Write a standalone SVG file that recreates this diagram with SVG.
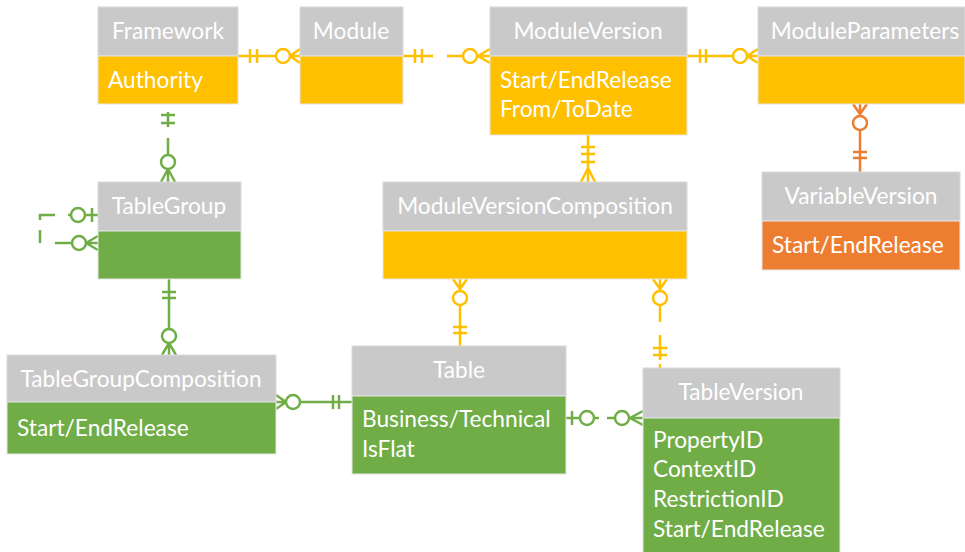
<svg xmlns="http://www.w3.org/2000/svg" width="965" height="552" viewBox="0 0 965 552">
<style>
.hd{fill:#C9C9C9;stroke:#DADADA;stroke-width:1}
.gold{fill:#FFC000;stroke:#E6E6E6;stroke-width:1}
.green{fill:#70AD47;stroke:#E6E6E6;stroke-width:1}
.orange{fill:#ED7D31;stroke:#E6E6E6;stroke-width:1}
text{font-family:Lato,"Open Sans","Liberation Sans",sans-serif;font-size:22.7px;fill:#FFFFFF}
.c{text-anchor:middle}
.lg{stroke:#FFC000;stroke-width:2.5;fill:none}
.lgr{stroke:#70AD47;stroke-width:2.5;fill:none}
.lo{stroke:#ED7D31;stroke-width:2.5;fill:none}
circle{fill:#FFFFFF}
</style>
<rect width="965" height="552" fill="#FFFFFF"/>
<g id="connectors">
  <!-- Framework - Module -->
  <g class="lg">
    <path d="M238 56H276M250 49V63M257 49V63M290 56H300M290 56L300 49M290 56L300 63"/>
    <circle cx="283" cy="56" r="7"/>
  </g>
  <!-- Module - ModuleVersion -->
  <g class="lg">
    <path d="M403 56H433M415 49V63M422 49V63M447 56H463M477 56H490M478 56L490 49M478 56L490 63"/>
    <circle cx="470" cy="56" r="7"/>
  </g>
  <!-- ModuleVersion - ModuleParameters -->
  <g class="lg">
    <path d="M687 56H733M700 49V63M706 49V63M747 56H758M747 56L758 49M747 56L758 63"/>
    <circle cx="740" cy="56" r="7"/>
  </g>
  <!-- ModuleParameters - VariableVersion -->
  <g class="lo">
    <path d="M860 104V116M860 114L853 104M860 114L867 104M860 130V172M853 152H867M853 158H867"/>
    <circle cx="860" cy="123" r="7"/>
  </g>
  <!-- Framework - TableGroup -->
  <g class="lgr">
    <path d="M168 112V127M161 115H175M161 123H175M168 138V155M168 169V182M168 169L161 182M168 169L175 182"/>
    <circle cx="168" cy="162" r="7"/>
  </g>
  <!-- TableGroup self -->
  <g class="lgr">
    <path d="M98 215H85M92 208V222M71 215H68M55 215H40V220M40 230V243M55 243H72M86 243H98M86 243L98 236M86 243L98 250"/>
    <circle cx="78" cy="215" r="7"/>
    <circle cx="79" cy="243" r="7"/>
  </g>
  <!-- TableGroup - TableGroupComposition -->
  <g class="lgr">
    <path d="M169 279V329M162 292H176M162 298H176M169 343V355M169 343L162 355M169 343L176 355"/>
    <circle cx="169" cy="336" r="7"/>
  </g>
  <!-- ModuleVersion - MVC -->
  <g class="lg">
    <path d="M588 135V182M581 147H595M581 154H595M581 162H595M588 168L581 182M588 168L595 182"/>
  </g>
  <!-- MVC - Table -->
  <g class="lg">
    <path d="M460 279V291M460 289L453 279M460 289L467 279M460 305V346M453 327H467M453 333H467"/>
    <circle cx="460" cy="298" r="7"/>
  </g>
  <!-- MVC - TableVersion -->
  <g class="lg">
    <path d="M660 279V291M660 289L653 279M660 289L667 279M660 305V322M660 335V360M653 348H667M653 355H667M660 364V368"/>
    <circle cx="660" cy="298" r="7"/>
  </g>
  <!-- TGC - Table -->
  <g class="lgr">
    <path d="M276 402H286M286 402L276 395M286 402L276 409M300 402H352M333 395V409M339 395V409"/>
    <circle cx="293" cy="402" r="7"/>
  </g>
  <!-- Table - TableVersion -->
  <g class="lgr">
    <path d="M566 418H580M572 411V425M594 418H599M607 418H615M630 418H643M630 418L643 411M630 418L643 425"/>
    <circle cx="587" cy="418" r="7"/>
    <circle cx="622" cy="418" r="7"/>
  </g>
</g>
<g id="Framework">
  <rect class="hd" x="98" y="7" width="140" height="49"/>
  <rect class="gold" x="98" y="56" width="140" height="48"/>
  <text class="c" x="168" y="39">Framework</text>
  <text x="108" y="88">Authority</text>
</g>
<g id="Module">
  <rect class="hd" x="300" y="7" width="103" height="49"/>
  <rect class="gold" x="300" y="56" width="103" height="48"/>
  <text class="c" x="351" y="39">Module</text>
</g>
<g id="ModuleVersion">
  <rect class="hd" x="490" y="7" width="197" height="49"/>
  <rect class="gold" x="490" y="56" width="197" height="79"/>
  <text class="c" x="588" y="39">ModuleVersion</text>
  <text x="500" y="88">Start/EndRelease</text>
  <text x="500" y="117">From/ToDate</text>
</g>
<g id="ModuleParameters">
  <rect class="hd" x="758" y="7" width="207" height="49"/>
  <rect class="gold" x="758" y="56" width="207" height="48"/>
  <text class="c" x="865" y="39">ModuleParameters</text>
</g>
<g id="VariableVersion">
  <rect class="hd" x="762" y="172" width="198" height="49"/>
  <rect class="orange" x="762" y="221" width="198" height="49"/>
  <text class="c" x="861" y="204">VariableVersion</text>
  <text x="772" y="253">Start/EndRelease</text>
</g>
<g id="ModuleVersionComposition">
  <rect class="hd" x="383" y="182" width="304" height="49"/>
  <rect class="gold" x="383" y="231" width="304" height="48"/>
  <text class="c" x="535" y="214">ModuleVersionComposition</text>
</g>
<g id="TableGroup">
  <rect class="hd" x="98" y="182" width="143" height="49"/>
  <rect class="green" x="98" y="231" width="143" height="48"/>
  <text class="c" x="169" y="214">TableGroup</text>
</g>
<g id="TableGroupComposition">
  <rect class="hd" x="7" y="355" width="269" height="47"/>
  <rect class="green" x="7" y="402" width="269" height="52"/>
  <text class="c" x="141" y="387">TableGroupComposition</text>
  <text x="17" y="436">Start/EndRelease</text>
</g>
<g id="Table">
  <rect class="hd" x="352" y="346" width="214" height="50"/>
  <rect class="green" x="352" y="396" width="214" height="78"/>
  <text class="c" x="459" y="378">Table</text>
  <text x="362" y="427">Business/Technical</text>
  <text x="362" y="457">IsFlat</text>
</g>
<g id="TableVersion">
  <rect class="hd" x="643" y="368" width="197" height="50"/>
  <rect class="green" x="643" y="418" width="197" height="140"/>
  <text class="c" x="741" y="400">TableVersion</text>
  <text x="653" y="448">PropertyID</text>
  <text x="653" y="477">ContextID</text>
  <text x="653" y="507">RestrictionID</text>
  <text x="653" y="537">Start/EndRelease</text>
</g>
</svg>
